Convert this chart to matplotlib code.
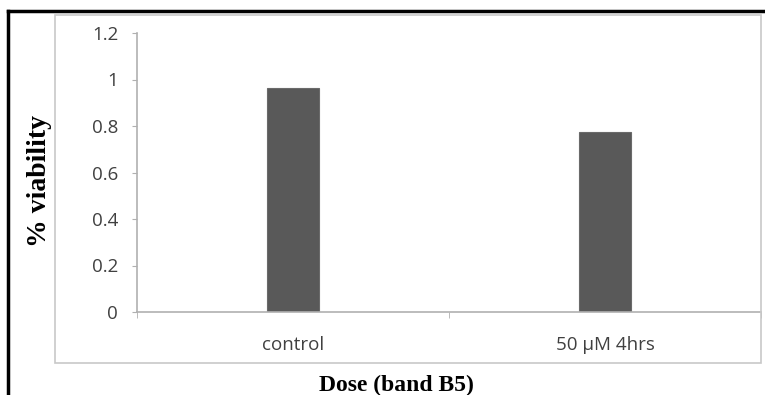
import matplotlib.pyplot as plt
from matplotlib.patches import Rectangle
from matplotlib.lines import Line2D
import numpy as np

categories = ["control", "50 \u00b5M 4hrs"]
viability = [0.963, 0.774]
yticks = [0, 0.2, 0.4, 0.6, 0.8, 1, 1.2]
ytick_labels = ["0", "0.2", "0.4", "0.6", "0.8", "1", "1.2"]

W, H = 765, 395
fig = plt.figure(figsize=(W / 100, H / 100), dpi=100)

# outer black frame (left and top) and grey chart-area box
fig.add_artist(Line2D([7.5 / W, 7.5 / W], [0, 1 - 10.5 / H], color="black", lw=2.5))
fig.add_artist(Line2D([7.5 / W, 1], [1 - 10.5 / H, 1 - 10.5 / H], color="black", lw=2.5))
fig.add_artist(Rectangle((55 / W, 1 - 363 / H), (761 - 55) / W, (363 - 15) / H,
                         fill=False, edgecolor="#c8c8c8", lw=1.2))

ax = fig.add_axes([137 / W, 1 - 312 / H, (761 - 137) / W, (312 - 33) / H])
x = np.arange(len(categories))
ax.bar(x, viability, width=0.167, color="#595959", edgecolor="#6a6a6a", lw=0.8)

ax.set_xlim(-0.5, len(categories) - 0.5)
ax.set_ylim(0, 1.2)
ax.set_yticks(yticks)
ax.set_yticklabels(ytick_labels)
ax.set_xticks(x)
ax.set_xticklabels(categories)
ax.set_xticks([-0.5, 0.5, 1.5], minor=True)

for s in ["top", "right"]:
    ax.spines[s].set_visible(False)
for s in ["left", "bottom"]:
    ax.spines[s].set_color("#b0b0b0")
    ax.spines[s].set_linewidth(1.2)

ax.tick_params(axis="y", length=3.6, color="#b0b0b0", labelcolor="#404040",
               labelsize=13.5, pad=10)
ax.tick_params(axis="x", which="major", length=0, labelcolor="#404040",
               labelsize=13.5, pad=17)
ax.tick_params(axis="x", which="minor", length=4.3, color="#b0b0b0")
for lbl in ax.get_xticklabels() + ax.get_yticklabels():
    lbl.set_fontfamily("Open Sans")

fig.text(40 / W, 1 - 181 / H, "% viability", rotation=90, ha="center", va="center",
         fontfamily="Liberation Serif", fontweight="bold", fontsize=20)
fig.text(396 / W, 1 - 391 / H, "Dose (band B5)", ha="center", va="baseline",
         fontfamily="Liberation Serif", fontweight="bold", fontsize=17)

fig.savefig("out.png", dpi=100)
